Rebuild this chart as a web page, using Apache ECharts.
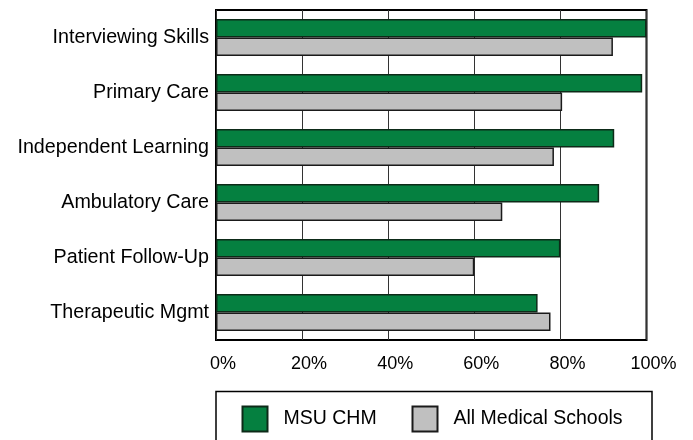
<!DOCTYPE html>
<html>
<head>
<meta charset="utf-8">
<script src="https://cdn.jsdelivr.net/npm/echarts@6/dist/echarts.min.js"></script>
<style>
html,body{margin:0;padding:0;background:#fff;}
#chart{width:693px;height:440px;}
</style>
</head>
<body>
<div id="chart"></div>
<script>
const categories = ["Interviewing Skills","Primary Care","Independent Learning","Ambulatory Care","Patient Follow-Up","Therapeutic Mgmt"];
const msuChm = [100, 99, 92.5, 89, 80, 74.7];
const allSchools = [92.2, 80.4, 78.5, 66.5, 60, 77.7];
const xTicks = [0, 20, 40, 60, 80, 100];

const FONT = "'Liberation Sans', Arial, sans-serif";
const chart = echarts.init(document.getElementById('chart'), null, {renderer:'canvas'});
chart.setOption({
  animation:false,
  backgroundColor:'#fff',
  grid:{left:216, right:46.5, top:10, bottom:100, show:true, borderColor:'#000', borderWidth:2, backgroundColor:'transparent'},
  xAxis:{
    type:'value', min:xTicks[0], max:xTicks[xTicks.length-1], interval:20,
    axisLine:{show:false}, axisTick:{show:false},
    splitLine:{show:true, lineStyle:{color:'#333', width:1}},
    axisLabel:{formatter:v=>v+'%', color:'#000', fontFamily:FONT, fontSize:18, margin:15, padding:[0,0,0,14]}
  },
  yAxis:{
    type:'category', data:categories, inverse:true,
    axisLine:{show:false}, axisTick:{show:false},
    axisLabel:{color:'#000', fontFamily:FONT, fontSize:19.7, margin:7}
  },
  legend:[
    {data:['MSU CHM'], left:241.5, top:405.5, itemWidth:25, itemHeight:25, padding:0, icon:'rect',
     textStyle:{color:'#000', fontFamily:FONT, fontSize:19.5, padding:[0,0,0,11]}},
    {data:['All Medical Schools'], left:411.5, top:405.5, itemWidth:25, itemHeight:25, padding:0, icon:'rect',
     textStyle:{color:'#000', fontFamily:FONT, fontSize:19.5, padding:[0,0,0,11]}}
  ],
  graphic:[{type:'rect', shape:{x:216, y:391.5, width:436, height:80}, style:{fill:'none', stroke:'#000', lineWidth:1.5}}],
  series:[
    {name:'MSU CHM', type:'bar', data:msuChm, barGap:'0%', barCategoryGap:'33%',
     itemStyle:{color:'#058040', borderColor:'#0d2a18', borderWidth:1.5}},
    {name:'All Medical Schools', type:'bar', data:allSchools,
     itemStyle:{color:'#c0c0c0', borderColor:'#1a1a1a', borderWidth:1.5}}
  ]
});
</script>
</body>
</html>
